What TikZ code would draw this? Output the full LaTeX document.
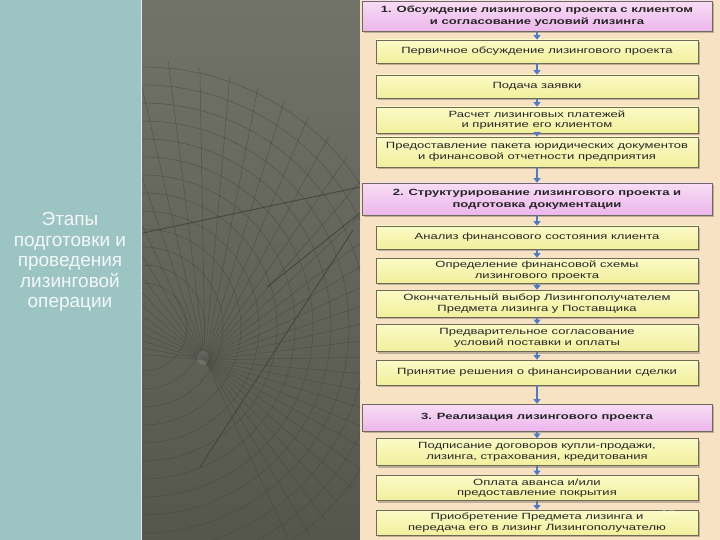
\documentclass[tikz,border=0pt]{standalone}
\usepackage{fontspec}
\setmainfont{Liberation Sans}
\newfontfamily\boxfont[FakeStretch=1.45]{Liberation Sans}
\usetikzlibrary{arrows.meta,shadows}
\definecolor{peach}{HTML}{F8E2C4}
\definecolor{panelteal}{HTML}{9CC4C3}
\definecolor{paneldark}{HTML}{5E6055}
\definecolor{gridline}{HTML}{43453D}
\definecolor{yelTop}{HTML}{FBFBC6}
\definecolor{yelBot}{HTML}{F1EF9C}
\definecolor{pinkTop}{HTML}{F8DDF5}
\definecolor{pinkBot}{HTML}{ECB6EC}
\definecolor{boxline}{HTML}{6E6A58}
\definecolor{shade}{HTML}{A89A86}
\definecolor{arrowblue}{HTML}{4F7BC4}
\begin{document}
\begin{tikzpicture}[x=1pt, y=-1pt, every node/.style={font=\boxfont\fontsize{9}{10.5}\selectfont, text=black!85},
  item/.style={draw=boxline, line width=0.7pt, top color=yelTop, bottom color=yelBot, minimum width=322pt, align=center, inner sep=1pt, drop shadow={shadow xshift=2pt, shadow yshift=-2pt, fill=shade, opacity=0.7}},
  stage/.style={item, top color=pinkTop, bottom color=pinkBot, minimum width=350pt, font=\boxfont\bfseries\fontsize{9}{12}\selectfont},
  flow/.style={draw=arrowblue, line width=2.2pt, -{Triangle[width=7pt,length=4.5pt]}}]
\useasboundingbox (0,0) rectangle (720,540);
% panels
\fill[panelteal] (0,0) rectangle (141,540);
\shade[top color=paneldark!88!white, bottom color=paneldark!90!black] (141,0) rectangle (360,540);
\fill[peach] (360,0) rectangle (720,540);
\draw[white!70!panelteal, line width=0.8pt] (141,0) -- (141,540);
% mesh on the dark panel
\begin{scope}
\clip (142,0) rectangle (360,540);
\coordinate (C) at (143,327); \coordinate (P) at (205,360);
\begin{scope}
\clip (C) circle [radius=266];
\foreach \a in {-175,-169,...,70} \draw[gridline, line width=0.5pt, opacity=0.6] (P) -- ++(\a:420);
\end{scope}
\foreach \r in {44,62,...,264} \draw[gridline, line width=0.5pt, opacity=0.6] (C) circle [radius=\r];
\draw[gridline, line width=1pt, opacity=0.85] (360,187) -- (143,233) (360,213) -- (267,287) (353,230) -- (200,467);
\fill[white, opacity=0.1] (203,358) ellipse [x radius=6, y radius=7];
\end{scope}
% left title
\node[font=\fontsize{19}{20.5}\selectfont, text=white!88!panelteal, align=center] (title) at (70,262) {Этапы\\ подготовки и\\ проведения\\ лизинговой\\ операции};
% stage 1
\node[stage, minimum height=30pt] (s1) at (537,16) {1. Обсуждение лизингового проекта с клиентом\\ и согласование условий лизинга};
\node[item, minimum height=23pt] (b1) at (537,51.5) {Первичное обсуждение лизингового проекта};
\node[item, minimum height=23pt] (b2) at (537,86.5) {Подача заявки};
\node[item, minimum height=26pt] (b3) at (537,120) {Расчет лизинговых платежей\\ и принятие его клиентом};
\node[item, minimum height=30pt] (b4) at (537,152) {Предоставление пакета юридических документов\\ и финансовой отчетности предприятия};
% stage 2
\node[stage, minimum height=32pt] (s2) at (537,199) {2. Структурирование лизингового проекта и\\ подготовка документации};
\node[item, minimum height=23pt] (b5) at (537,237.5) {Анализ финансового состояния клиента};
\node[item, minimum height=25pt] (b6) at (537,270.5) {Определение финансовой схемы\\ лизингового проекта};
\node[item, minimum height=27pt] (b7) at (537,303.5) {Окончательный выбор Лизингополучателем\\ Предмета лизинга у Поставщика};
\node[item, minimum height=27pt] (b8) at (537,338) {Предварительное согласование\\ условий поставки и оплаты};
\node[item, minimum height=25pt] (b9) at (537,372.5) {Принятие решения о финансировании сделки};
% stage 3
\node[stage, minimum height=27pt] (s3) at (537,417.5) {3. Реализация лизингового проекта};
\node[item, minimum height=27pt] (b10) at (537,452) {Подписание договоров купли-продажи,\\ лизинга, страхования, кредитования};
\node[item, minimum height=25pt] (b11) at (537,488) {Оплата аванса и/или\\ предоставление покрытия};
\node[item, minimum height=25pt] (b12) at (537,522.5) {Приобретение Предмета лизинга и\\ передача его в лизинг Лизингополучателю};
\foreach \a/\b in {s1/b1, b1/b2, b2/b3, b3/b4, b4/s2, s2/b5, b5/b6, b6/b7, b7/b8, b8/b9, b9/s3, s3/b10, b10/b11, b11/b12}
  \draw[flow] (\a) -- (\b);
\node[text=white, opacity=0.45] (pg) at (668,513) {10};
\end{tikzpicture}
\end{document}
